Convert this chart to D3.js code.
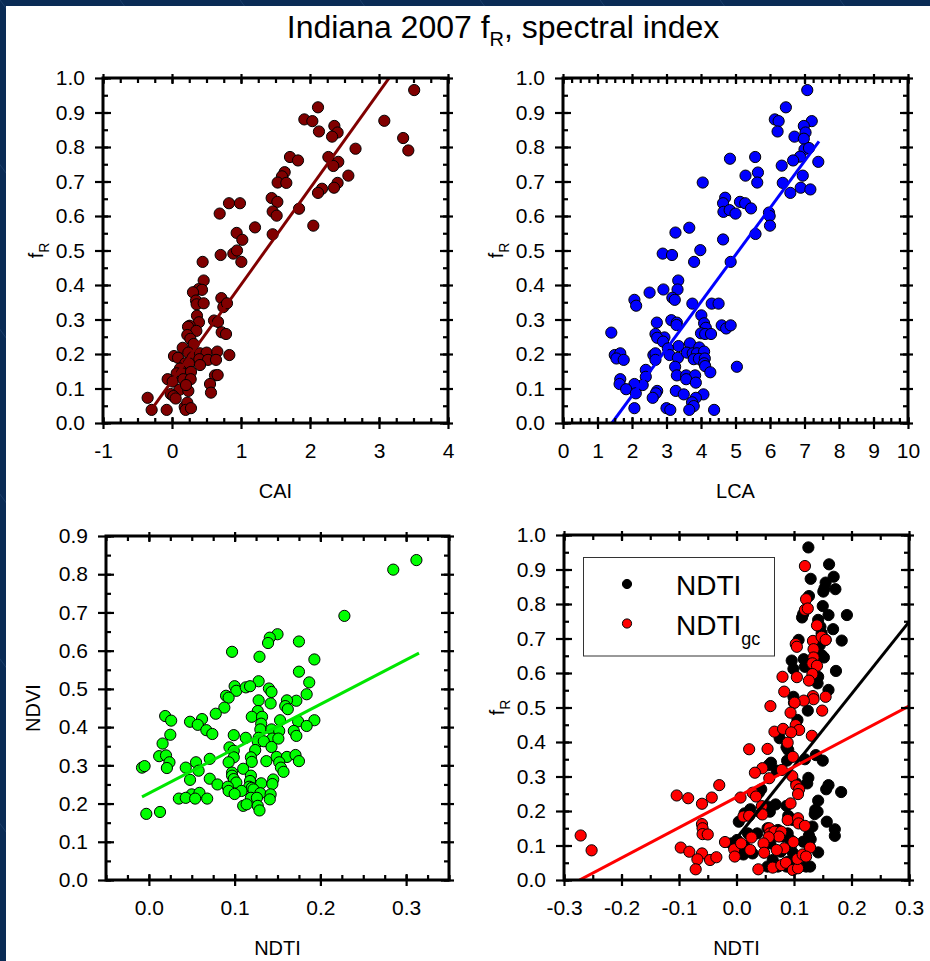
<!DOCTYPE html>
<html>
<head>
<meta charset="utf-8">
<script src="https://cdn.jsdelivr.net/npm/d3@7"></script>
<style>
  body { margin: 0; background: #0a2b55; }
  svg { display: block; }
  text { font-family: "Liberation Sans", Arial, Helvetica, sans-serif; fill: #000; }
</style>
</head>
<body>
<svg id="chart" width="930" height="961"></svg>
<script>
// ---------- data ----------
// Crop-residue fraction f_R against CAI (cellulose absorption index)
const caiPoints = [
  [3.51,0.965],[2.116,0.915],[1.918,0.880],[2.034,0.875],[3.077,0.876],[2.13,0.845],[2.353,0.861],
  [2.40,0.842],[2.32,0.83],[3.35,0.826],[3.425,0.79],[2.66,0.795],[1.71,0.771],[1.826,0.761],
  [2.266,0.771],[2.41,0.757],[2.338,0.745],[2.556,0.717],[1.633,0.727],[1.594,0.715],[1.531,0.697],
  [1.657,0.696],[2.40,0.696],[2.174,0.679],[2.116,0.667],[2.348,0.682],[1.444,0.652],[1.527,0.641],
  [0.826,0.637],[0.985,0.637],[0.691,0.607],[1.459,0.613],[1.517,0.601],[1.841,0.621],[2.048,0.572],
  [1.203,0.567],[0.937,0.551],[1.019,0.531],[1.459,0.547],[0.705,0.487],[0.889,0.491],[0.942,0.50],
  [1.005,0.467],[0.444,0.467],[0.459,0.413],[0.386,0.388],[0.435,0.386],[0.304,0.379],[0.348,0.355],
  [0.357,0.344],[0.459,0.347],[0.715,0.362],[0.744,0.336],[0.797,0.347],[0.362,0.311],[0.609,0.297],
  [0.667,0.293],[0.391,0.292],[0.256,0.282],[0.232,0.279],[0.353,0.267],[0.720,0.263],[0.783,0.258],
  [0.222,0.255],[0.266,0.244],[0.314,0.229],[0.155,0.218],[0.029,0.194],[0.087,0.189],[0.237,0.204],
  [0.30,0.19],[0.406,0.202],[0.502,0.204],[0.396,0.185],[0.522,0.183],[0.657,0.207],[0.638,0.183],
  [0.831,0.197],[0.406,0.168],[0.193,0.173],[0.116,0.158],[0.246,0.173],[0.068,0.144],[0.145,0.144],
  [0.275,0.148],[-0.063,0.127],[0.01,0.12],[0.164,0.127],[0.271,0.127],[0.623,0.138],[0.662,0.139],
  [0.106,0.096],[0.237,0.093],[0.203,0.110],[0.551,0.113],[-0.019,0.084],[0.02,0.078],[0.053,0.071],
  [0.565,0.088],[-0.353,0.073],[-0.295,0.038],[-0.077,0.038],[0.184,0.047],[0.222,0.059],[0.198,0.038],
  [0.275,0.043]
];
const caiFit = { slope: 0.279, intercept: 0.122, from: -0.294, to: 3.15 };

// f_R against LCA (lignin-cellulose absorption index)
const lcaPoints = [
  [7.08,0.965],[6.46,0.915],[6.14,0.880],[6.25,0.875],[6.22,0.845],[7.21,0.875],[6.98,0.861],
  [7.03,0.842],[6.71,0.83],[6.98,0.824],[7.0,0.793],[7.13,0.797],[6.87,0.772],[6.67,0.761],
  [7.40,0.757],[6.34,0.746],[6.95,0.717],[6.37,0.696],[6.89,0.682],[7.17,0.677],[6.59,0.667],
  [4.84,0.766],[5.57,0.771],[5.65,0.726],[5.63,0.697],[5.29,0.717],[4.05,0.697],[4.70,0.653],
  [4.64,0.637],[4.65,0.612],[4.83,0.617],[5.0,0.607],[5.13,0.641],[5.28,0.637],[5.45,0.622],
  [5.97,0.610],[5.99,0.600],[6.0,0.572],[5.58,0.548],[4.64,0.532],[3.66,0.566],[3.26,0.552],
  [2.89,0.491],[3.16,0.487],[3.98,0.501],[3.80,0.467],[4.86,0.467],[3.34,0.413],[3.32,0.387],
  [2.91,0.387],[2.51,0.378],[3.17,0.363],[3.24,0.357],[2.07,0.357],[2.12,0.340],[3.75,0.346],
  [4.31,0.346],[4.51,0.346],[4.01,0.312],[2.72,0.291],[3.14,0.298],[3.30,0.291],[3.29,0.284],
  [4.09,0.289],[4.14,0.276],[4.60,0.283],[4.73,0.274],[4.86,0.283],[1.40,0.262],[2.68,0.258],
  [2.94,0.248],[2.73,0.247],[2.90,0.236],[4.0,0.26],[4.12,0.258],[4.29,0.258],[3.68,0.231],
  [3.35,0.223],[1.50,0.197],[1.66,0.202],[1.55,0.187],[1.76,0.183],[2.62,0.197],[2.68,0.202],
  [3.04,0.216],[3.09,0.197],[3.33,0.189],[3.59,0.204],[3.76,0.202],[3.95,0.219],[3.88,0.202],
  [4.09,0.207],[3.79,0.185],[3.94,0.186],[4.11,0.187],[2.68,0.183],[4.09,0.173],[4.12,0.165],
  [3.25,0.163],[5.04,0.163],[2.40,0.154],[4.27,0.147],[3.30,0.138],[3.57,0.138],[3.83,0.138],
  [3.57,0.127],[3.85,0.117],[1.66,0.127],[1.64,0.113],[2.40,0.134],[2.31,0.110],[2.07,0.113],
  [1.83,0.098],[2.11,0.086],[2.73,0.093],[2.69,0.086],[2.60,0.073],[3.27,0.093],[3.50,0.083],
  [4.07,0.083],[3.85,0.073],[3.74,0.060],[3.79,0.049],[3.66,0.038],[2.07,0.043],[3.0,0.043],
  [3.11,0.038],[4.38,0.038]
];
const lcaFit = { slope: 0.136, intercept: -0.193, from: 1.42, to: 7.42 };

// NDVI against NDTI (normalized difference tillage index)
const ndviPoints = [
  [0.312,0.837],[0.285,0.812],[0.228,0.691],[0.150,0.643],[0.141,0.634],[0.139,0.620],[0.175,0.624],
  [0.097,0.597],[0.129,0.584],[0.193,0.577],[0.175,0.545],[0.187,0.517],[0.128,0.520],[0.100,0.507],
  [0.102,0.495],[0.113,0.504],[0.118,0.507],[0.140,0.501],[0.143,0.492],[0.184,0.486],[0.090,0.482],
  [0.093,0.477],[0.128,0.470],[0.142,0.462],[0.088,0.451],[0.172,0.469],[0.161,0.470],[0.159,0.455],
  [0.162,0.447],[0.019,0.429],[0.078,0.435],[0.062,0.421],[0.127,0.442],[0.120,0.427],[0.132,0.427],
  [0.026,0.417],[0.048,0.414],[0.057,0.406],[0.153,0.418],[0.174,0.415],[0.193,0.418],[0.184,0.403],
  [0.131,0.409],[0.067,0.392],[0.074,0.382],[0.025,0.380],[0.099,0.379],[0.130,0.394],[0.143,0.394],
  [0.152,0.390],[0.169,0.390],[0.172,0.377],[0.113,0.372],[0.128,0.372],[0.144,0.370],[0.151,0.370],
  [0.127,0.362],[0.134,0.363],[0.016,0.357],[0.094,0.347],[0.143,0.348],[0.124,0.340],[0.099,0.338],
  [0.012,0.324],[0.020,0.326],[0.071,0.317],[0.119,0.321],[0.099,0.321],[0.149,0.322],[0.161,0.322],
  [0.171,0.327],[0.024,0.308],[0.055,0.308],[0.093,0.308],[0.120,0.309],[0.137,0.311],[0.152,0.308],
  [0.175,0.311],[-0.008,0.294],[-0.005,0.298],[0.021,0.293],[0.043,0.294],[0.110,0.291],[0.154,0.294],
  [0.157,0.283],[0.058,0.286],[0.097,0.281],[0.097,0.273],[0.099,0.264],[0.119,0.273],[0.048,0.262],
  [0.071,0.265],[0.145,0.263],[0.102,0.255],[0.118,0.259],[0.131,0.253],[0.080,0.250],[0.144,0.251],
  [0.092,0.244],[0.117,0.244],[0.120,0.241],[0.093,0.233],[0.108,0.233],[0.122,0.237],[0.100,0.225],
  [0.050,0.224],[0.059,0.228],[0.130,0.227],[0.142,0.224],[0.035,0.213],[0.043,0.215],[0.054,0.213],
  [0.068,0.213],[0.119,0.215],[0.126,0.215],[0.141,0.211],[0.110,0.194],[0.114,0.198],[0.127,0.194],
  [0.129,0.182],[-0.003,0.173],[0.013,0.178]
];
const ndviFit = { slope: 1.164, intercept: 0.227, from: -0.008, to: 0.315 };

// f_R against NDTI (black) and green-cover corrected NDTI_gc (red)
const ndtiPoints = [
  [0.125,0.964],[0.161,0.915],[0.129,0.873],[0.169,0.879],[0.155,0.862],[0.153,0.845],[0.151,0.836],
  [0.172,0.843],[0.126,0.823],[0.150,0.794],[0.160,0.768],[0.192,0.768],[0.114,0.761],[0.116,0.771],
  [0.142,0.754],[0.146,0.734],[0.148,0.715],[0.168,0.727],[0.183,0.694],[0.155,0.696],[0.145,0.681],
  [0.108,0.696],[0.148,0.652],[0.152,0.645],[0.117,0.640],[0.096,0.636],[0.099,0.612],[0.119,0.618],
  [0.173,0.606],[0.142,0.589],[0.141,0.570],[0.160,0.551],[0.099,0.531],[0.100,0.514],[0.124,0.491],
  [0.106,0.464],[0.075,0.411],[0.087,0.385],[0.090,0.377],[0.119,0.350],[0.138,0.362],[0.150,0.346],
  [0.088,0.346],[0.060,0.340],[0.056,0.333],[0.070,0.317],[0.125,0.296],[0.123,0.280],[0.104,0.280],
  [0.160,0.275],[0.156,0.263],[0.182,0.255],[0.043,0.263],[0.039,0.253],[0.142,0.230],[0.087,0.215],
  [0.137,0.203],[0.136,0.191],[0.141,0.198],[0.157,0.169],[0.014,0.193],[0.024,0.205],[0.054,0.213],
  [0.068,0.219],[0.058,0.198],[0.090,0.186],[0.098,0.174],[0.132,0.155],[0.171,0.147],[0.171,0.128],
  [0.126,0.129],[0.129,0.118],[0.004,0.169],[0.020,0.135],[0.036,0.135],[0.001,0.116],[-0.009,0.106],
  [0.014,0.099],[0.054,0.150],[0.072,0.145],[0.081,0.126],[0.089,0.135],[0.094,0.116],[0.059,0.106],
  [0.077,0.082],[0.095,0.101],[0.098,0.079],[0.116,0.111],[0.127,0.097],[0.142,0.080],[0.012,0.074],
  [0.028,0.077],[0.063,0.058],[0.090,0.053],[0.085,0.048],[0.054,0.039],[0.072,0.039],[0.087,0.039],
  [0.106,0.039],[0.121,0.039],[0.128,0.039]
];
const ndtiGcPoints = [
  [0.119,0.910],[0.121,0.814],[0.119,0.783],[0.124,0.787],[0.140,0.738],[0.103,0.684],[0.105,0.676],
  [0.133,0.693],[0.148,0.705],[0.155,0.696],[0.134,0.669],[0.134,0.645],[0.132,0.628],[0.140,0.621],
  [0.132,0.597],[0.080,0.589],[0.105,0.588],[0.126,0.578],[0.083,0.546],[0.133,0.533],[0.134,0.524],
  [0.117,0.520],[0.155,0.531],[0.149,0.491],[0.059,0.504],[0.101,0.514],[0.094,0.485],[0.103,0.449],
  [0.109,0.435],[0.066,0.430],[0.081,0.438],[0.095,0.428],[0.131,0.418],[0.089,0.398],[0.022,0.379],
  [0.054,0.380],[0.098,0.357],[0.045,0.324],[0.032,0.311],[0.079,0.319],[0.097,0.301],[0.057,0.295],
  [-0.030,0.275],[0.104,0.274],[0.109,0.263],[0.107,0.249],[-0.104,0.245],[-0.084,0.237],[-0.043,0.239],
  [0.007,0.239],[0.028,0.253],[0.034,0.242],[-0.060,0.221],[0.094,0.222],[0.044,0.214],[0.043,0.193],
  [0.012,0.184],[0.022,0.186],[0.045,0.190],[0.089,0.174],[0.107,0.179],[0.108,0.164],[0.119,0.157],
  [-0.060,0.162],[-0.059,0.150],[-0.059,0.133],[-0.050,0.132],[0.057,0.150],[0.058,0.135],[0.066,0.140],
  [0.078,0.140],[0.074,0.126],[0.056,0.124],[-0.271,0.129],[-0.252,0.086],[-0.020,0.110],[-0.004,0.089],
  [0.008,0.106],[0.026,0.123],[0.047,0.106],[0.099,0.110],[0.083,0.092],[0.070,0.087],[0.048,0.079],
  [0.024,0.087],[-0.003,0.068],[-0.097,0.094],[-0.082,0.082],[-0.060,0.077],[-0.068,0.060],[-0.046,0.058],
  [-0.035,0.066],[-0.071,0.031],[0.038,0.031],[0.063,0.036],[0.078,0.043],[0.086,0.050],[0.098,0.029],
  [0.107,0.034],[0.106,0.061],[0.115,0.074],[0.128,0.094],[0.121,0.068]
];
const ndtiFit = { slope: 2.09, intercept: 0.121, from: -0.001, to: 0.30 };
const ndtiGcFit = { slope: 0.88, intercept: 0.240, from: -0.273, to: 0.30 };

// axis ticks
const fRTicks = [0, 0.1, 0.2, 0.3, 0.4, 0.5, 0.6, 0.7, 0.8, 0.9, 1.0];
const ndviTicks = [0, 0.1, 0.2, 0.3, 0.4, 0.5, 0.6, 0.7, 0.8, 0.9];
const caiTicks = [-1, 0, 1, 2, 3, 4];
const lcaTicks = [0, 1, 2, 3, 4, 5, 6, 7, 8, 9, 10];
const ndtiTicksLeft = [0.0, 0.1, 0.2, 0.3];
const ndtiTicksRight = [-0.3, -0.2, -0.1, 0.0, 0.1, 0.2, 0.3];
const legendLabels = ["NDTI", "NDTI"];

// ---------- drawing ----------
const svg = d3.select("#chart");
const W = 930, H = 961;

// slide backdrop with faint diagonal streaks
svg.append("rect").attr("width", W).attr("height", H).attr("fill", "#0a2b55");
const streaks = svg.append("g").attr("stroke", "#3d6290").attr("stroke-opacity", 0.35).attr("stroke-width", 1);
for (let k = -10; k < 14; k++) {
  streaks.append("line")
    .attr("x1", k * 120).attr("y1", 0)
    .attr("x2", k * 120 + 700).attr("y2", H);
}
svg.append("rect").attr("x", 6).attr("y", 6).attr("width", W - 6).attr("height", H - 6).attr("fill", "#fff");

// title
const title = svg.append("text")
  .attr("x", 503).attr("y", 38)
  .attr("text-anchor", "middle")
  .style("font-size", "32px");
title.append("tspan").text("Indiana 2007 f");
title.append("tspan").attr("dy", 8).style("font-size", "20px").text("R");
title.append("tspan").attr("dy", -8).text(", spectral index");

// plain hyphen for negative tick values
const hyphen = f => d => f(d).replace("\u2212", "-");
const fmt1 = hyphen(d3.format(".1f"));
const fmtInt = hyphen(d3.format("d"));

function range(a, b, step) {
  const out = [];
  const n = Math.round((b - a) / step);
  for (let i = 0; i <= n; i++) out.push(+(a + i * step).toFixed(6));
  return out;
}

function panel(cfg) {
  const g = svg.append("g");
  const x = d3.scaleLinear().domain(cfg.xDomain).range([cfg.left, cfg.right]);
  const y = d3.scaleLinear().domain(cfg.yDomain).range([cfg.bottom, cfg.top]);

  const clipId = "clip-" + cfg.id;
  svg.append("clipPath").attr("id", clipId)
    .append("rect")
    .attr("x", cfg.left).attr("y", cfg.top)
    .attr("width", cfg.right - cfg.left).attr("height", cfg.bottom - cfg.top);

  const plot = g.append("g").attr("clip-path", `url(#${clipId})`);

  cfg.series.forEach(s => {
    plot.append("g").selectAll("circle")
      .data(s.points)
      .join("circle")
      .attr("cx", d => x(d[0]))
      .attr("cy", d => y(d[1]))
      .attr("r", 5.6)
      .attr("fill", s.color)
      .attr("stroke", "#000")
      .attr("stroke-width", 1);
  });

  cfg.series.forEach(s => {
    const f = s.fit;
    const line = d3.line().x(d => x(d)).y(d => y(f.intercept + f.slope * d));
    plot.append("path")
      .attr("d", line([f.from, f.to]))
      .attr("fill", "none")
      .attr("stroke", s.lineColor || s.color)
      .attr("stroke-width", 3);
  });

  // axes: major ticks cross the frame, minor ticks point inward, on all four sides
  const xMinor = range(cfg.xDomain[0], cfg.xDomain[1], cfg.xMinorStep);
  const yMinor = range(cfg.yDomain[0], cfg.yDomain[1], cfg.yMinorStep);
  const axes = g.append("g").attr("class", "axes");

  function add(axis, tx, ty) {
    const a = axes.append("g").attr("transform", `translate(${tx},${ty})`).call(axis);
    a.select(".domain").remove();
    a.selectAll(".tick line").attr("stroke", "#000").attr("stroke-width", 2.2);
    return a;
  }

  // bottom
  const xb = add(d3.axisBottom(x).tickValues(cfg.xTicks).tickSize(6).tickPadding(14).tickFormat(cfg.xFormat), 0, cfg.bottom);
  xb.selectAll(".tick text").style("font-size", "21px").attr("fill", "#000");
  add(d3.axisTop(x).tickValues(cfg.xTicks).tickSize(6).tickFormat(""), 0, cfg.bottom);
  add(d3.axisTop(x).tickValues(xMinor).tickSize(5).tickFormat(""), 0, cfg.bottom);
  // top
  add(d3.axisTop(x).tickValues(cfg.xTicks).tickSize(4).tickFormat(""), 0, cfg.top);
  add(d3.axisBottom(x).tickValues(cfg.xTicks).tickSize(6).tickFormat(""), 0, cfg.top);
  add(d3.axisBottom(x).tickValues(xMinor).tickSize(5).tickFormat(""), 0, cfg.top);
  // left
  const yl = add(d3.axisLeft(y).tickValues(cfg.yTicks).tickSize(8).tickPadding(10).tickFormat(fmt1), cfg.left, 0);
  yl.selectAll(".tick text").style("font-size", "21px").attr("fill", "#000");
  add(d3.axisRight(y).tickValues(cfg.yTicks).tickSize(8).tickFormat(""), cfg.left, 0);
  add(d3.axisRight(y).tickValues(yMinor).tickSize(5).tickFormat(""), cfg.left, 0);
  // right
  add(d3.axisRight(y).tickValues(cfg.yTicks).tickSize(5).tickFormat(""), cfg.right, 0);
  add(d3.axisLeft(y).tickValues(cfg.yTicks).tickSize(8).tickFormat(""), cfg.right, 0);
  add(d3.axisLeft(y).tickValues(yMinor).tickSize(5).tickFormat(""), cfg.right, 0);

  // frame
  g.append("rect")
    .attr("x", cfg.left).attr("y", cfg.top)
    .attr("width", cfg.right - cfg.left).attr("height", cfg.bottom - cfg.top)
    .attr("fill", "none").attr("stroke", "#000").attr("stroke-width", 3);

  // axis titles
  g.append("text")
    .attr("x", (cfg.left + cfg.right) / 2)
    .attr("y", cfg.bottom + 75)
    .attr("text-anchor", "middle")
    .style("font-size", "20px")
    .text(cfg.xTitle);

  const yt = g.append("text")
    .attr("transform", `translate(${cfg.left - (cfg.yTitleGap || 60)},${(cfg.top + cfg.bottom) / 2}) rotate(-90)`)
    .attr("text-anchor", "middle")
    .style("font-size", "20px");
  yt.append("tspan").text(cfg.yTitle);
  if (cfg.ySub) yt.append("tspan").attr("dy", 6).style("font-size", "14px").text(cfg.ySub);

  return { x, y, g };
}

panel({
  id: "cai", left: 103, right: 448, top: 78, bottom: 423,
  xDomain: [-1, 4], yDomain: [0, 1], xTicks: caiTicks, yTicks: fRTicks,
  xMinorStep: 0.25, yMinorStep: 0.05, xFormat: fmtInt,
  xTitle: "CAI", yTitle: "f", ySub: "R",
  series: [{ points: caiPoints, color: "#800000", fit: caiFit }]
});

panel({
  id: "lca", left: 563, right: 908, top: 78, bottom: 423,
  xDomain: [0, 10], yDomain: [0, 1], xTicks: lcaTicks, yTicks: fRTicks,
  xMinorStep: 0.25, yMinorStep: 0.05, xFormat: fmtInt,
  xTitle: "LCA", yTitle: "f", ySub: "R",
  series: [{ points: lcaPoints, color: "#0000ff", fit: lcaFit }]
});

panel({
  id: "ndvi", left: 106, right: 449, top: 536, bottom: 880,
  xDomain: [-0.05, 0.35], yDomain: [0, 0.9], xTicks: ndtiTicksLeft, yTicks: ndviTicks,
  xMinorStep: 0.025, yMinorStep: 0.05, xFormat: fmt1,
  xTitle: "NDTI", yTitle: "NDVI", yTitleGap: 66,
  series: [{ points: ndviPoints, color: "#00ff00", lineColor: "#00e600", fit: ndviFit }]
});

const br = panel({
  id: "ndti", left: 564, right: 909, top: 535, bottom: 880,
  xDomain: [-0.3, 0.3], yDomain: [0, 1], xTicks: ndtiTicksRight, yTicks: fRTicks,
  xMinorStep: 0.05, yMinorStep: 0.05, xFormat: fmt1,
  xTitle: "NDTI", yTitle: "f", ySub: "R",
  series: [
    { points: ndtiPoints, color: "#000000", fit: ndtiFit },
    { points: ndtiGcPoints, color: "#ff0000", fit: ndtiGcFit }
  ]
});

// legend
const lg = br.g.append("g");
lg.append("rect")
  .attr("x", 583.5).attr("y", 557.5).attr("width", 191).attr("height", 98.5)
  .attr("fill", "#fff").attr("stroke", "#333").attr("stroke-width", 1);
const legendColors = ["#000000", "#ff0000"];
legendLabels.forEach((lab, i) => {
  const cy = 584 + i * 39.5;
  lg.append("circle").attr("cx", 627).attr("cy", cy).attr("r", 4.6)
    .attr("fill", legendColors[i]).attr("stroke", "#000").attr("stroke-width", 1);
  const t = lg.append("text").attr("x", 676).attr("y", cy + 11).style("font-size", "28px");
  t.append("tspan").text(lab);
  if (i === 1) t.append("tspan").attr("dy", 10).style("font-size", "18px").text("gc");
});
</script>
</body>
</html>
